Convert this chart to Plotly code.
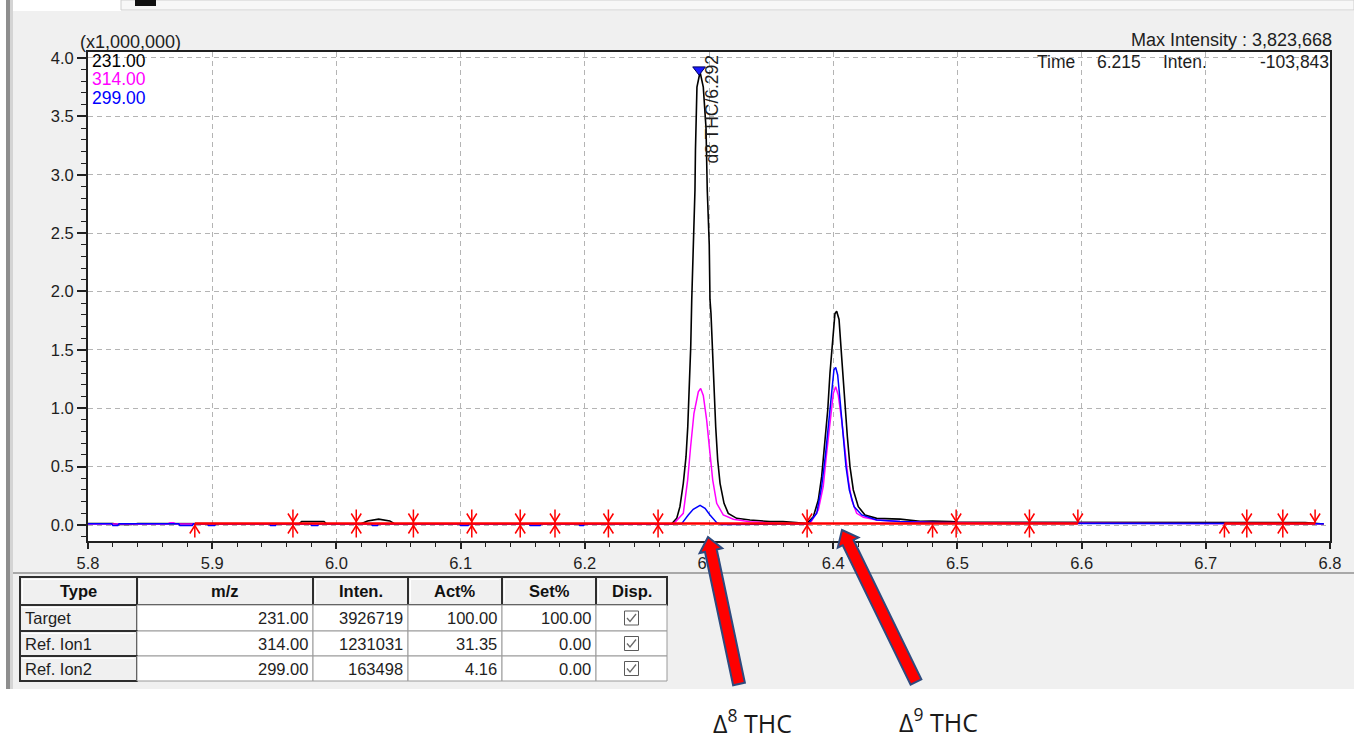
import math
import plotly.graph_objects as go

# ---------------- chromatogram data (intensity in units of 1,000,000) ----------------
black_t = [5.800, 5.820, 5.825, 5.835, 5.840, 5.880, 5.886, 5.970, 5.972, 5.990, 5.992,
           6.020, 6.025, 6.034, 6.043, 6.047, 6.100, 6.200, 6.260, 6.2700, 6.2740, 6.2766,
           6.2793, 6.2815, 6.2829, 6.2841, 6.2853, 6.2861, 6.2875, 6.2887, 6.2891, 6.2903,
           6.2928, 6.2954, 6.2976, 6.2986, 6.3002, 6.3008, 6.3016, 6.3027, 6.3040, 6.3054,
           6.3070, 6.3089, 6.3121, 6.3155, 6.3223, 6.3330, 6.3491, 6.3596, 6.3700, 6.3787,
           6.3840, 6.3880, 6.3907, 6.3934, 6.3956, 6.3974, 6.3996, 6.4014, 6.4028, 6.4047,
           6.4068, 6.4089, 6.4114, 6.4135, 6.4162, 6.4202, 6.4256, 6.4350, 6.4538, 6.4700,
           6.4800, 6.4950, 6.5000, 6.5500, 6.6000, 6.7000, 6.7800, 6.7950]
black_y = [0.013, 0.013, 0.005, 0.005, 0.013, 0.013, 0.010, 0.010, 0.030, 0.030, 0.010,
           0.010, 0.035, 0.050, 0.035, 0.010, 0.010, 0.010, 0.010, 0.010, 0.057, 0.157,
           0.357, 0.585, 0.840, 1.160, 1.530, 1.930, 2.400, 2.870, 3.210, 3.750,
           3.880, 3.750, 3.400, 2.870, 2.400, 1.930, 1.810, 1.530, 1.160, 0.840,
           0.557, 0.357, 0.186, 0.100, 0.057, 0.043, 0.029, 0.029, 0.020, 0.012,
           0.071, 0.214, 0.414, 0.700, 0.985, 1.300, 1.610, 1.810, 1.830, 1.760,
           1.440, 1.100, 0.756, 0.500, 0.300, 0.157, 0.086, 0.057, 0.050, 0.032,
           0.034, 0.030, 0.026, 0.024, 0.022, 0.022, 0.020, 0.008]

magenta_t = [5.800, 5.824, 5.826, 5.836, 5.838, 5.864, 5.866, 5.869, 5.871, 6.000, 6.200,
             6.2713, 6.2793, 6.2828, 6.2852, 6.2879, 6.2914, 6.2933, 6.2954, 6.2981, 6.3008,
             6.3030, 6.3062, 6.3115, 6.3196, 6.3330, 6.3545, 6.3787, 6.3813, 6.3880, 6.3920,
             6.3947, 6.3974, 6.4001, 6.4020, 6.4041, 6.4068, 6.4095, 6.4122, 6.4149, 6.4189,
             6.4243, 6.4350, 6.4538, 6.4800, 6.5500, 6.6500, 6.7000, 6.7950]
magenta_y = [0.008, 0.008, 0.012, 0.012, 0.008, 0.008, 0.020, 0.020, 0.008, 0.008, 0.008,
             0.008, 0.100, 0.385, 0.670, 0.957, 1.140, 1.170, 1.110, 0.900, 0.614,
             0.385, 0.186, 0.086, 0.049, 0.028, 0.014, 0.006, 0.010, 0.128, 0.330,
             0.614, 0.900, 1.128, 1.185, 1.110, 0.900, 0.614, 0.385, 0.214, 0.100,
             0.066, 0.043, 0.029, 0.022, 0.018, 0.016, 0.016, 0.010]

blue_t = [5.800, 5.819, 5.820, 5.824, 5.825, 5.873, 5.874, 5.884, 5.885, 5.896, 5.897,
          5.902, 5.903, 5.946, 5.947, 5.951, 5.952, 5.979, 5.980, 5.985, 5.986, 6.028,
          6.029, 6.033, 6.034, 6.099, 6.100, 6.106, 6.107, 6.155, 6.156, 6.164, 6.165,
          6.195, 6.196, 6.199, 6.200, 6.2779, 6.2833, 6.2873, 6.2928, 6.2968, 6.3008,
          6.3062, 6.3100, 6.3300, 6.3600, 6.3800, 6.3867, 6.3907, 6.3939, 6.3966, 6.3988,
          6.4006, 6.4020, 6.4036, 6.4055, 6.4076, 6.4103, 6.4130, 6.4168, 6.4230, 6.4350,
          6.4538, 6.4800, 6.5000, 6.5500, 6.6000, 6.7000, 6.7500, 6.7950]
blue_y = [0.010, 0.010, -0.004, -0.004, 0.010, 0.010, -0.004, -0.004, 0.010, 0.010, -0.004,
          -0.004, 0.010, 0.010, -0.004, -0.004, 0.010, 0.010, -0.004, -0.004, 0.010, 0.010,
          -0.004, -0.004, 0.010, 0.010, -0.004, -0.004, 0.010, 0.010, -0.004, -0.004, 0.010,
          0.010, -0.004, -0.004, 0.010, 0.010, 0.086, 0.134, 0.168, 0.143, 0.086,
          0.020, 0.005, 0.006, 0.008, 0.010, 0.100, 0.330, 0.614, 0.900, 1.185,
          1.330, 1.350, 1.285, 1.070, 0.785, 0.500, 0.300, 0.157, 0.086, 0.043,
          0.030, 0.018, 0.014, 0.012, 0.010, 0.012, 0.012, 0.010]

# integration baseline segments and peak start/end markers
baseline_level = 0.013
baseline_start = [5.886, 6.715]
baseline_end = [6.597, 6.788]
marker_t = [5.886, 5.965, 6.016, 6.062, 6.109, 6.148, 6.176, 6.219, 6.259, 6.379,
            6.480, 6.499, 6.558, 6.597, 6.715, 6.733, 6.762, 6.788]
marker_kind = ["lo", "both", "both", "both", "both", "both", "both", "both", "both", "both",
               "lo", "both", "both", "hi", "lo", "both", "both", "hi"]

peak_time = 6.292
peak_apex = 3.90
peak_name = "d8 THC"

ion_labels = ["231.00", "314.00", "299.00"]
ion_colors = ["#000000", "#ff00ff", "#0000ff"]

# ion table
tbl_header = ["Type", "m/z", "Inten.", "Act%", "Set%", "Disp."]
tbl_type = ["Target", "Ref. Ion1", "Ref. Ion2"]
tbl_mz = ["231.00", "314.00", "299.00"]
tbl_inten = ["3926719", "1231031", "163498"]
tbl_act = ["100.00", "31.35", "4.16"]
tbl_set = ["100.00", "0.00", "0.00"]
tbl_disp = [True, True, True]

# ---------------- page geometry (pixels) ----------------
W, H = 1354, 738
PL, PR, PT, PB = 88, 1330, 52, 541
X_RANGE = [5.8, 6.8]
Y_RANGE = [-0.137, 4.051]
FONT = "Liberation Sans"
TXT = "#1e1e1e"

TBL_COL_EDGES = [20, 137, 313, 408, 502, 596, 667]
TBL_ROW_EDGES = [577, 605, 631, 656, 681]
TBL_FONT = 16.5


def px(x):
    return x / W


def py(y):
    return 1 - y / H


ux = (X_RANGE[1] - X_RANGE[0]) / (PR - PL)   # data units per pixel
uy = (Y_RANGE[1] - Y_RANGE[0]) / (PB - PT)

fig = go.Figure()

# chromatogram traces
fig.add_trace(go.Scatter(x=black_t, y=black_y, mode="lines",
                         line=dict(color=ion_colors[0], width=1.6), hoverinfo="skip"))
fig.add_trace(go.Scatter(x=magenta_t, y=magenta_y, mode="lines",
                         line=dict(color=ion_colors[1], width=1.5), hoverinfo="skip"))
fig.add_trace(go.Scatter(x=blue_t, y=blue_y, mode="lines",
                         line=dict(color=ion_colors[2], width=1.5), hoverinfo="skip"))

# red integration baseline, one trace per segment
for a, b in zip(baseline_start, baseline_end):
    fig.add_trace(go.Scatter(x=[a, b], y=[baseline_level, baseline_level], mode="lines",
                             line=dict(color="#ff0000", width=2.5), hoverinfo="skip"))

# peak boundary markers (arrow / asterisk glyphs)
mx, my = [], []
y0 = baseline_level
for t, kind in zip(marker_t, marker_kind):
    if kind in ("both", "hi"):
        mx += [t, t, None]
        my += [y0, y0 + 14 * uy, None]
        mx += [t - 5 * ux, t, t + 5 * ux, None]
        my += [y0 + 10 * uy, y0 + 2 * uy, y0 + 10 * uy, None]
    if kind in ("both", "lo"):
        mx += [t, t, None]
        my += [y0, y0 - 14 * uy, None]
        mx += [t - 5 * ux, t, t + 5 * ux, None]
        my += [y0 - 10 * uy, y0 - 2 * uy, y0 - 10 * uy, None]
fig.add_trace(go.Scatter(x=mx, y=my, mode="lines",
                         line=dict(color="#ff0000", width=1.5), hoverinfo="skip"))

# peak top marker
fig.add_trace(go.Scatter(x=[peak_time], y=[peak_apex], mode="markers",
                         marker=dict(symbol="triangle-down", size=11, color="#1a1aff",
                                     line=dict(color="#000060", width=1)),
                         hoverinfo="skip"))


def arrow_path(tail, tip, shaft, head, head_len):
    dx, dy = tip[0] - tail[0], tip[1] - tail[1]
    L = math.hypot(dx, dy)
    ux_, uy_ = dx / L, dy / L
    nx, ny = -uy_, ux_
    bxp, byp = tip[0] - ux_ * head_len, tip[1] - uy_ * head_len
    pts = [
        (tail[0] + nx * shaft / 2, tail[1] + ny * shaft / 2),
        (bxp + nx * shaft / 2, byp + ny * shaft / 2),
        (bxp + nx * head / 2, byp + ny * head / 2),
        tip,
        (bxp - nx * head / 2, byp - ny * head / 2),
        (bxp - nx * shaft / 2, byp - ny * shaft / 2),
        (tail[0] - nx * shaft / 2, tail[1] - ny * shaft / 2),
    ]
    return "M " + " L ".join(f"{px(x):.5f},{py(y):.5f}" for x, y in pts) + " Z"


def prect(x0, y0_, x1, y1, fill, line_color=None, lw=0, layer="below"):
    return dict(type="rect", xref="paper", yref="paper",
                x0=px(x0), x1=px(x1), y0=py(y1), y1=py(y0_),
                fillcolor=fill, line=dict(color=line_color or fill, width=lw), layer=layer)


def pline(x0, y0_, x1, y1, color, lw, layer="below"):
    return dict(type="line", xref="paper", yref="paper",
                x0=px(x0), x1=px(x1), y0=py(y0_), y1=py(y1),
                line=dict(color=color, width=lw), layer=layer)


shapes = [
    # window panel
    prect(13, 11, W, 689, "#f0f0f0"),
    prect(6, 0, 10, 689, "#8e8e8e"),
    prect(10, 0, 13, 689, "#d4d4d4"),
    prect(121, 0, W, 10, "#f7f7f7", "#cfcfcf", 1),
    prect(135, 0, 156, 6, "#111111"),
    pline(13, 573, W, 573, "#a8a8a8", 2),
    # plotting area
    dict(type="rect", xref="x domain", yref="y domain", x0=0, x1=1, y0=0, y1=1,
         fillcolor="#ffffff", line=dict(width=0), layer="below"),
]

annotations = []


def ptext(text, x, y, anchor="left", size=17.5, color=TXT, family=FONT, **kw):
    annotations.append(dict(text=text, x=px(x), y=py(y), xref="paper", yref="paper",
                            xanchor=anchor, yanchor="middle", showarrow=False,
                            font=dict(family=family, size=size, color=color), **kw))


# ---------------- ion table ----------------
n_rows = len(tbl_type)
columns = [tbl_type, tbl_mz, tbl_inten, tbl_act, tbl_set]
tbl_layer = "above"
# header row
for c, name in enumerate(tbl_header):
    x0, x1 = TBL_COL_EDGES[c], TBL_COL_EDGES[c + 1]
    y0_, y1 = TBL_ROW_EDGES[0], TBL_ROW_EDGES[1]
    shapes.append(prect(x0, y0_, x1, y1, "#f0f0f0", "#2e2e2e", 2, tbl_layer))
    shapes.append(pline(x0 + 2.5, y0_ + 2.5, x1 - 3, y0_ + 2.5, "#ffffff", 1, tbl_layer))
    shapes.append(pline(x0 + 2.5, y0_ + 2.5, x0 + 2.5, y1 - 3, "#ffffff", 1, tbl_layer))
    ptext(f"<b>{name}</b>", (x0 + x1) / 2, (y0_ + y1) / 2, "center", TBL_FONT, "#111111")
# body rows
for r in range(n_rows):
    y0_, y1 = TBL_ROW_EDGES[r + 1], TBL_ROW_EDGES[r + 2]
    yc = (y0_ + y1) / 2
    for c in range(len(tbl_header)):
        x0, x1 = TBL_COL_EDGES[c], TBL_COL_EDGES[c + 1]
        if c == 0:
            shapes.append(prect(x0, y0_, x1, y1, "#f0f0f0", "#2e2e2e", 2, tbl_layer))
            shapes.append(pline(x0 + 2.5, y0_ + 2.5, x1 - 3, y0_ + 2.5, "#ffffff", 1,
                                tbl_layer))
            ptext(columns[0][r], x0 + 3, yc, "left", TBL_FONT)
        else:
            shapes.append(prect(x0, y0_, x1, y1, "#ffffff", "#9a9a9a", 1, tbl_layer))
            if c < 5:
                ptext(columns[c][r], x1 - 3, yc, "right", TBL_FONT)
            elif tbl_disp[r]:
                cx = (x0 + x1) / 2
                shapes.append(prect(cx - 7, yc - 7, cx + 7, yc + 7, "#ffffff", "#5a5a5a", 1,
                                    tbl_layer))
                shapes.append(dict(type="path", xref="paper", yref="paper",
                                   path=(f"M {px(cx - 4.5):.5f},{py(yc):.5f} "
                                         f"L {px(cx - 1.5):.5f},{py(yc + 3.5):.5f} "
                                         f"L {px(cx + 4.5):.5f},{py(yc - 4):.5f}"),
                                   line=dict(color="#6a6a6a", width=1.3), layer=tbl_layer))

# pointer arrows
shapes.append(dict(type="path", xref="paper", yref="paper",
                   path=arrow_path((739, 684), (708, 537), 12, 23, 14),
                   fillcolor="#ff0000", line=dict(color="#2e4a7e", width=2), layer="above"))
shapes.append(dict(type="path", xref="paper", yref="paper",
                   path=arrow_path((916, 682), (842, 530), 12, 23, 14),
                   fillcolor="#ff0000", line=dict(color="#2e4a7e", width=2), layer="above"))

# ---------------- chart texts ----------------
ptext("(x1,000,000)", 78, 42, "left", 18)
ptext("Max Intensity : 3,823,668", 1334, 40, "right", 18)
ptext("Time", 1035, 62, "left", 17.5)
ptext("6.215", 1095, 62, "left", 17.5)
ptext("Inten.", 1161, 62, "left", 17.5)
ptext("-103,843", 1331, 62, "right", 17.5)
for i, (lab, col) in enumerate(zip(ion_labels, ion_colors)):
    ptext(lab, 90, 61 + 18.5 * i, "left", 17.5, col)
annotations.append(dict(text=f"{peak_name}/{peak_time:.3f}", x=peak_time, y=Y_RANGE[1],
                        xref="x", yref="y", xshift=13, yshift=-1, xanchor="center",
                        yanchor="top", textangle=-90, showarrow=False,
                        font=dict(family=FONT, size=17.5, color=TXT)))
ptext("\u0394<sup>8</sup> THC", 752, 721, "center", 25, "#1a1a1a", "Open Sans")
ptext("\u0394<sup>9</sup> THC", 938, 720, "center", 25, "#1a1a1a", "Open Sans")

axis_common = dict(
    tickformat=".1f", ticks="outside", tickwidth=1.5, tickcolor="#202020",
    showgrid=True, gridcolor="#b4b4b4", griddash="5px,4px", gridwidth=1,
    zeroline=False, showline=True, linecolor="#202020", linewidth=2, mirror=True,
    tickfont=dict(family=FONT, size=16.5, color=TXT), fixedrange=True,
)

fig.update_layout(
    width=W, height=H, margin=dict(l=0, r=0, t=0, b=0, pad=0, autoexpand=False),
    paper_bgcolor="#ffffff", plot_bgcolor="#ffffff", showlegend=False,
    shapes=shapes, annotations=annotations,
    xaxis=dict(domain=[px(PL), px(PR)], range=X_RANGE, dtick=0.1, tick0=5.8, ticklen=6,
               minor=dict(dtick=0.02, ticks="outside", ticklen=4, tickwidth=1.2,
                          tickcolor="#202020", showgrid=False),
               **axis_common),
    yaxis=dict(domain=[py(PB), py(PT)], range=Y_RANGE, dtick=0.5, tick0=0, ticklen=9,
               minor=dict(dtick=0.1, ticks="outside", ticklen=5, tickwidth=1.2,
                          tickcolor="#202020", showgrid=False),
               **axis_common),
)

fig.write_html("out.html")
